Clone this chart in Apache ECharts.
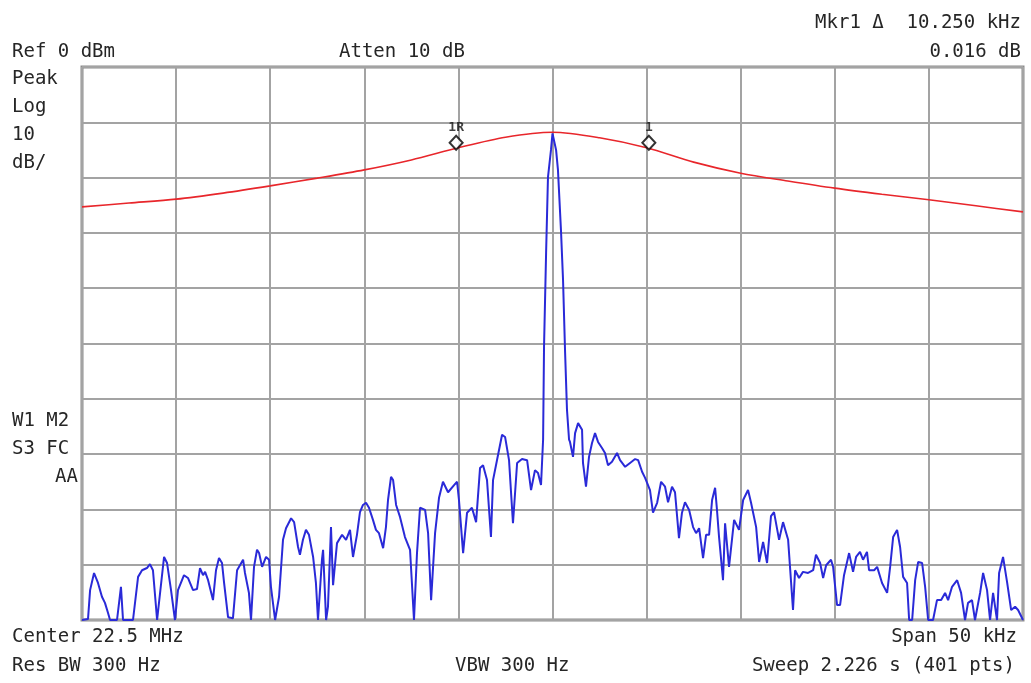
<!DOCTYPE html>
<html>
<head>
<meta charset="utf-8">
<title>Spectrum</title>
<script src="https://cdn.jsdelivr.net/npm/echarts@6/dist/echarts.min.js"></script>
<style>
  html, body { margin: 0; padding: 0; background: #fff; }
  #chart { width: 1031px; height: 683px; }
</style>
</head>
<body>
<div id="chart"></div>
<script>
// frequency offset from center (kHz) and level (dBm) of the blue trace
var traceFreq = [
  -25.00, -24.68, -24.57, -24.36, -24.15, -23.94, -23.78, -23.62, -23.51, -23.14,
  -22.93, -22.82, -22.29, -22.02, -21.81, -21.55, -21.39, -21.23, -21.01, -20.64,
  -20.48, -20.27, -20.06, -19.90, -19.58, -19.37, -19.10, -18.89, -18.73, -18.57,
  -18.46, -18.30, -18.04, -17.88, -17.72, -17.56, -17.45, -17.24, -16.98, -16.76,
  -16.66, -16.44, -16.34, -16.13, -16.02, -15.86, -15.70, -15.59, -15.43, -15.22,
  -15.06, -14.96, -14.74, -14.53, -14.32, -14.16, -13.89, -13.73, -13.52, -13.42,
  -13.26, -13.10, -12.94, -12.72, -12.57, -12.46, -12.25, -12.19, -12.03, -11.93,
  -11.77, -11.66, -11.45, -11.18, -10.97, -10.76, -10.60, -10.39, -10.23, -10.07,
  -9.91, -9.75, -9.54, -9.38, -9.22, -9.00, -8.85, -8.74, -8.58, -8.47,
  -8.31, -8.10, -7.84, -7.57, -7.36, -7.20, -7.04, -6.77, -6.61, -6.45,
  -6.24, -6.03, -5.82, -5.55, -5.23, -5.07, -4.97, -4.75, -4.54, -4.28,
  -4.06, -3.85, -3.69, -3.48, -3.27, -3.16, -2.95, -2.68, -2.52, -2.31,
  -2.10, -1.88, -1.62, -1.35, -1.14, -0.93, -0.77, -0.61, -0.50, -0.45,
  -0.34, -0.24, -0.08, 0.00, 0.19, 0.29, 0.45, 0.56, 0.67, 0.77,
  0.88, 0.93, 1.09, 1.20, 1.36, 1.57, 1.62, 1.78, 1.94, 2.10,
  2.26, 2.42, 2.63, 2.79, 2.95, 3.16, 3.43, 3.59, 3.86, 4.12,
  4.39, 4.55, 4.76, 4.92, 5.18, 5.34, 5.56, 5.77, 5.98, 6.14,
  6.35, 6.51, 6.72, 6.88, 7.04, 7.26, 7.47, 7.63, 7.79, 8.00,
  8.16, 8.32, 8.48, 8.64, 8.74, 8.85, 9.06, 9.17, 9.38, 9.65,
  9.91, 10.13, 10.39, 10.55, 10.82, 10.98, 11.19, 11.40, 11.61, 11.77,
  12.04, 12.25, 12.52, 12.62, 12.78, 12.89, 13.10, 13.31, 13.58, 13.85,
  14.00, 14.22, 14.38, 14.54, 14.80, 14.91, 15.12, 15.28, 15.49, 15.76,
  15.97, 16.13, 16.34, 16.50, 16.71, 16.82, 17.09, 17.25, 17.51, 17.78,
  17.94, 18.10, 18.31, 18.47, 18.63, 18.84, 18.95, 19.11, 19.27, 19.43,
  19.64, 19.80, 19.96, 20.22, 20.43, 20.65, 20.86, 21.02, 21.23, 21.50,
  21.71, 21.92, 22.08, 22.29, 22.45, 22.72, 22.88, 23.09, 23.25, 23.41,
  23.62, 23.73, 23.94, 24.16, 24.37, 24.58, 24.74, 25.00
];
var traceLevel = [
  -100.0, -99.8, -94.6, -91.5, -93.3, -95.8, -96.9, -98.7, -100.0, -100.0,
  -94.0, -100.0, -100.0, -92.2, -91.0, -90.6, -89.9, -91.0, -100.0, -88.6,
  -89.7, -94.6, -100.0, -94.6, -91.9, -92.4, -94.6, -94.4, -90.6, -91.9,
  -91.3, -92.8, -96.4, -91.0, -88.8, -89.7, -93.3, -99.5, -99.7, -91.0,
  -91.0, -89.1, -91.5, -95.1, -100.0, -90.4, -87.3, -87.9, -90.4, -88.6,
  -89.1, -94.0, -100.0, -95.8, -85.5, -83.4, -81.6, -82.3, -86.8, -88.2,
  -85.5, -83.7, -84.6, -88.6, -93.3, -100.0, -89.1, -87.3, -100.0, -97.6,
  -83.2, -93.7, -86.1, -84.6, -85.5, -83.7, -88.6, -84.6, -80.5, -79.2,
  -78.8, -79.7, -81.9, -83.7, -84.3, -87.0, -83.2, -78.3, -74.1, -74.7,
  -79.2, -81.4, -85.0, -87.3, -100.0, -87.9, -79.7, -80.1, -84.3, -96.4,
  -84.3, -77.9, -75.0, -76.9, -75.6, -75.0, -78.3, -87.9, -80.6, -79.7,
  -82.3, -72.5, -72.0, -74.7, -85.0, -74.7, -71.1, -66.5, -66.9, -71.1,
  -82.5, -71.6, -70.9, -71.1, -76.5, -72.9, -73.4, -75.6, -67.4, -50.6,
  -33.6, -19.9, -15.0, -12.0, -15.0, -18.6, -29.5, -38.5, -51.7, -62.0,
  -67.4, -67.8, -70.5, -66.2, -64.4, -65.6, -71.6, -75.9, -70.5, -68.0,
  -66.2, -67.8, -68.9, -69.8, -72.0, -71.4, -69.8, -71.1, -72.3, -71.6,
  -70.9, -71.1, -73.2, -74.3, -76.5, -80.6, -78.8, -75.0, -75.9, -78.7,
  -75.9, -76.9, -85.2, -80.6, -78.7, -80.1, -83.2, -84.3, -83.4, -88.8,
  -84.6, -84.6, -78.3, -76.1, -80.1, -85.0, -92.8, -82.5, -90.4, -81.9,
  -83.7, -78.3, -76.5, -78.8, -83.2, -89.5, -85.9, -89.7, -81.2, -80.5,
  -85.5, -82.3, -85.5, -90.4, -98.2, -91.0, -92.4, -91.3, -91.5, -91.0,
  -88.2, -89.7, -92.4, -90.1, -89.1, -90.4, -97.3, -97.3, -91.9, -87.9,
  -91.3, -88.6, -87.7, -89.1, -87.7, -91.0, -91.0, -90.4, -93.3, -95.1,
  -90.4, -85.0, -83.7, -86.8, -92.2, -93.3, -100.0, -100.0, -92.8, -89.5,
  -89.7, -94.0, -100.0, -100.0, -96.4, -96.4, -95.1, -96.4, -94.0, -92.8,
  -95.1, -100.0, -96.9, -96.4, -100.0, -95.1, -91.5, -94.6, -100.0, -95.1,
  -100.0, -91.5, -88.6, -93.3, -98.2, -97.6, -98.2, -100.0
];

// red trace (filter shape)
var filterFreq = [-25, -22.5, -20, -17.5, -15, -12.5, -10, -7.5, -5, -2.5, 0,
  2.5, 5, 7.5, 10, 12.5, 15, 17.5, 20, 22.5, 25];
var filterLevel = [-25.3, -24.6, -23.9, -22.8, -21.5, -20.1, -18.6, -16.8, -14.6, -12.7, -11.8,
  -12.8, -14.6, -17.2, -19.2, -20.6, -21.9, -23.0, -24.0, -25.1, -26.2];

// markers
var markerNames = ['1R', '1'];
var markerFreq = [-5.12, 5.12];
var markerLevel = [-14.6, -14.6];

var txt = '#262626';
var font = '19px "DejaVu Sans Mono", "Liberation Mono", monospace';

function pairs(xs, ys) {
  var out = [];
  for (var i = 0; i < xs.length; i++) out.push([xs[i], ys[i]]);
  return out;
}

function label(text, x, y, align) {
  return {
    type: 'text', x: x, y: y, silent: true,
    style: { text: text, font: font, fill: txt, align: align || 'left', verticalAlign: 'middle' }
  };
}

var markers = [];
for (var i = 0; i < markerNames.length; i++) {
  markers.push({ name: markerNames[i], value: [markerFreq[i], markerLevel[i]] });
}

var chart = echarts.init(document.getElementById('chart'));
chart.setOption({
  backgroundColor: '#fff',
  animation: false,
  grid: {
    left: 82, top: 67, right: 8, bottom: 63,
    show: true, borderColor: '#8c8c8c', borderWidth: 3, backgroundColor: 'transparent'
  },
  xAxis: {
    type: 'value', min: -25, max: 25, interval: 5,
    axisLine: { show: false }, axisTick: { show: false }, axisLabel: { show: false },
    splitLine: { show: true, lineStyle: { color: '#a3a3a3', width: 2 } }
  },
  yAxis: {
    type: 'value', min: -100, max: 0, interval: 10,
    axisLine: { show: false }, axisTick: { show: false }, axisLabel: { show: false },
    splitLine: { show: true, lineStyle: { color: '#a3a3a3', width: 2 } }
  },
  series: [
    {
      type: 'line', data: pairs(traceFreq, traceLevel), showSymbol: false,
      lineStyle: { color: '#2a2ad8', width: 2 }, z: 3
    },
    {
      type: 'line', data: pairs(filterFreq, filterLevel), showSymbol: false, smooth: 0.3,
      lineStyle: { color: '#e8262b', width: 1.6 }, z: 4
    },
    {
      type: 'scatter', data: markers, symbol: 'diamond', symbolSize: [13, 14],
      symbolOffset: [0, -5],
      itemStyle: { color: '#fff', borderColor: '#000', borderWidth: 2 },
      label: {
        show: true, position: 'top', distance: 1, formatter: '{b}',
        fontFamily: 'DejaVu Sans Mono', fontSize: 13, fontWeight: 'bold', color: '#111'
      },
      z: 5
    }
  ],
  graphic: [
    label('Mkr1 \u0394  10.250 kHz', 1021, 23, 'right'),
    label('0.016 dB', 1021, 52, 'right'),
    label('Ref 0 dBm', 12, 52),
    label('Atten 10 dB', 339, 52),
    label('Peak', 12, 79),
    label('Log', 12, 107),
    label('10', 12, 135),
    label('dB/', 12, 163),
    label('W1 M2', 12, 421),
    label('S3 FC', 12, 449),
    label('AA', 78, 477, 'right'),
    label('Center 22.5 MHz', 12, 637),
    label('Res BW 300 Hz', 12, 666),
    label('VBW 300 Hz', 455, 666),
    label('Span 50 kHz', 1017, 637, 'right'),
    label('Sweep 2.226 s (401 pts)', 1015, 666, 'right')
  ]
});
</script>
</body>
</html>
